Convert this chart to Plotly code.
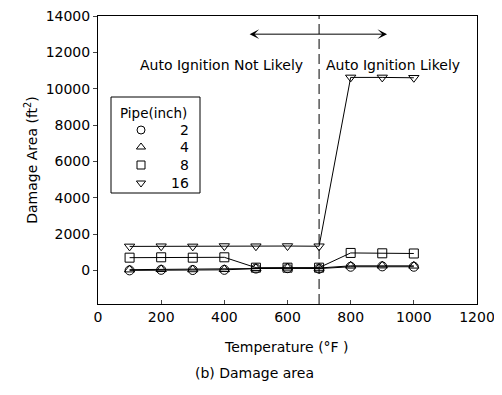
import plotly.graph_objects as go

temps = [100, 200, 300, 400, 500, 600, 700, 800, 900, 1000]
pipe_labels = ["2", "4", "8", "16"]
area_2 = [0, 30, 20, 30, 100, 120, 100, 200, 220, 200]
area_4 = [40, 60, 50, 60, 120, 140, 130, 250, 260, 250]
area_8 = [700, 720, 700, 720, 150, 150, 150, 960, 940, 930]
area_16 = [1320, 1330, 1320, 1340, 1330, 1340, 1330, 10620, 10620, 10600]
series = [area_2, area_4, area_8, area_16]
symbols = ["circle-open", "triangle-up-open", "square-open", "triangle-down-open"]
x_ticks = [0, 200, 400, 600, 800, 1000, 1200]
y_ticks = [0, 2000, 4000, 6000, 8000, 10000, 12000, 14000]

font = "DejaVu Sans, Verdana, sans-serif"
fig = go.Figure()
for lab, ys, sym in zip(pipe_labels, series, symbols):
    fig.add_trace(go.Scatter(x=temps, y=ys, mode="lines+markers",
                             line=dict(color="black", width=1),
                             marker=dict(symbol=sym, size=9, color="black", line=dict(width=1)),
                             showlegend=False))

# plot area in window px: x 98..477, y 16..304
def px(xp):
    return (xp - 98) / 379

def py(yp):
    return (304 - yp) / 288

# manual legend on an overlay axis (0..1 of the plot area)
leg_y = [py(130), py(147), py(165), py(183)]
fig.add_trace(go.Scatter(x=[px(141)] * 4, y=leg_y, mode="markers", xaxis="x2", yaxis="y2",
                         marker=dict(symbol=symbols, size=8, color="black", line=dict(width=1)),
                         showlegend=False, hoverinfo="skip"))
fig.add_shape(type="rect", xref="paper", yref="paper", x0=px(111), x1=px(200), y0=py(193), y1=py(97),
              line=dict(color="black", width=1), fillcolor="white", layer="below")
fig.add_annotation(x=px(153), y=py(113), xref="paper", yref="paper", text="Pipe(inch)", showarrow=False,
                   xanchor="center", yanchor="middle",
                   font=dict(size=13.5, family=font, color="black"))
for lab, yy in zip(pipe_labels, leg_y):
    fig.add_annotation(x=px(191), y=yy, xref="paper", yref="paper", text=lab, showarrow=False,
                       xanchor="right", yanchor="middle", font=dict(size=14, family=font, color="black"))

fig.add_shape(type="line", x0=700, x1=700, y0=-1850, y1=14000,
              line=dict(color="black", width=1, dash="10px,5px"))
fig.add_annotation(x=480, y=13000, ax=920, ay=13000, xref="x", yref="y", axref="x", ayref="y",
                   showarrow=True, arrowhead=3, arrowside="end+start", arrowwidth=1, arrowsize=1.6,
                   arrowcolor="black", text="")
fig.add_annotation(x=391, y=11300, text="Auto Ignition Not Likely", showarrow=False,
                   font=dict(size=14, color="black", family=font))
fig.add_annotation(x=934, y=11300, text="Auto Ignition Likely", showarrow=False,
                   font=dict(size=14, color="black", family=font))
fig.add_annotation(x=px(286), y=py(347), xref="paper", yref="paper",
                   text="Temperature (°F )", showarrow=False, xanchor="center", yanchor="middle",
                   font=dict(size=14, color="black", family=font))
fig.add_annotation(x=px(254), y=py(373), xref="paper", yref="paper",
                   text="(b) Damage area", showarrow=False, xanchor="center", yanchor="middle",
                   font=dict(size=14, color="black", family=font))

fig.update_layout(
    width=494, height=387,
    margin=dict(l=90, r=25, t=8, b=91),
    paper_bgcolor="white", plot_bgcolor="white",
    font=dict(family=font, size=14, color="black"),
    showlegend=False,
    xaxis=dict(range=[0, 1200], tickvals=x_ticks, ticktext=[str(v) for v in x_ticks],
               showgrid=False, zeroline=False, showline=True, linecolor="black", mirror=True,
               ticks="inside", ticklen=4, tickfont=dict(size=14), automargin=False,
               ticklabeloverflow="allow"),
    yaxis=dict(range=[-1850, 14000], tickvals=y_ticks, ticktext=[str(v) for v in y_ticks],
               showgrid=False, zeroline=False, showline=True, linecolor="black", mirror=True,
               ticks="outside", ticklen=4, tickfont=dict(size=14), automargin=False,
               ticklabeloverflow="allow",
               title=dict(text="Damage Area (ft<sup>2</sup>)", font=dict(size=14), standoff=4)),
    xaxis2=dict(range=[0, 1], overlaying="x", visible=False, fixedrange=True, automargin=False),
    yaxis2=dict(range=[0, 1], overlaying="y", visible=False, fixedrange=True, automargin=False),
)
fig.write_html("out.html")
